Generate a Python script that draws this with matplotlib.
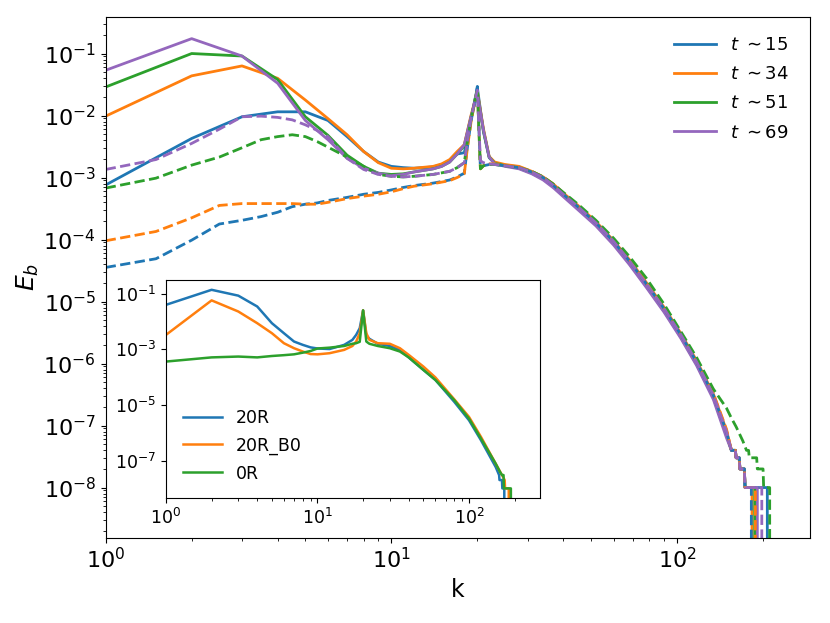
import numpy as np
import matplotlib
matplotlib.use("Agg")
import matplotlib.pyplot as plt
from matplotlib import ticker

# ---------------- main panel data (log10 of E_b) -------------
k_solid = [1, 2, 3, 4, 5, 6, 7, 8, 9, 10, 11, 12, 14, 15, 16, 17, 18, 19, 20, 21, 22, 23,
           25, 28, 31, 34, 37, 40, 45, 52, 60, 68, 78, 90, 103, 117, 134, 149,
           155, 160, 161, 165, 166, 172, 173]

logE_t15 = [-3.12, -2.37, -2.02, -1.94, -1.94, -2.08, -2.34, -2.58, -2.75, -2.82, -2.84, -2.85,
            -2.83, -2.79, -2.73, -2.62, -2.60, -2.06, -1.55, -2.26, -2.68, -2.77,
            -2.81, -2.84, -2.92, -3.01, -3.14, -3.28, -3.48, -3.74, -4.05, -4.36, -4.73, -5.13,
            -5.55, -5.99, -6.53, -7.14,
            -7.40, -7.40, -7.52, -7.52, -7.70, -7.70, -8.00]
logE_t34 = [-2.01, -1.36, -1.20, -1.40, -1.75, -2.05, -2.31, -2.58, -2.76, -2.85, -2.86, -2.85,
            -2.82, -2.78, -2.71, -2.58, -2.47, -2.00, -1.61, -2.21, -2.66, -2.75,
            -2.79, -2.82, -2.90, -2.99, -3.11, -3.25, -3.45, -3.71, -4.02, -4.32, -4.69, -5.09,
            -5.51, -5.95, -6.49, -7.08,
            -7.40, -7.40, -7.52, -7.52, -7.70, -7.70, -8.00]
logE_t51 = [-1.54, -1.00, -1.04, -1.42, -2.02, -2.32, -2.64, -2.82, -2.93, -2.95, -2.94, -2.91,
            -2.86, -2.82, -2.75, -2.62, -2.49, -2.03, -1.63, -2.24, -2.67, -2.77,
            -2.81, -2.85, -2.93, -3.02, -3.15, -3.29, -3.49, -3.76, -4.07, -4.38, -4.75, -5.15,
            -5.57, -6.01, -6.55, -7.16,
            -7.40, -7.40, -7.52, -7.52, -7.70, -7.70, -8.00]
logE_t69 = [-1.27, -0.76, -1.04, -1.48, -2.08, -2.39, -2.69, -2.85, -2.93, -2.97, -2.95, -2.91,
            -2.86, -2.82, -2.75, -2.62, -2.47, -2.02, -1.64, -2.23, -2.67, -2.78,
            -2.82, -2.86, -2.94, -3.04, -3.17, -3.31, -3.52, -3.78, -4.09, -4.40, -4.77, -5.17,
            -5.59, -6.03, -6.58, -7.20,
            -7.40, -7.40, -7.52, -7.52, -7.70, -7.70, -8.00]
end_t15, end_t34, end_t51, end_t69 = 207, 183, 187, 191

k_dash = [1, 1.5, 2, 2.5, 3, 3.5, 4, 4.5, 5, 5.5, 6, 7, 8, 9, 10, 11, 12, 14, 16, 17, 18,
          18.5, 19, 19.5, 20, 20.5, 21, 22, 23,
          25, 28, 31, 34, 37, 40, 45, 52, 60, 68, 78, 90, 103, 117, 134, 149,
          155, 160, 161, 165, 166, 172, 173]
logE_d15 = [-4.45, -4.31, -4.01, -3.75, -3.69, -3.63, -3.56, -3.47, -3.43, -3.41, -3.37, -3.32,
            -3.27, -3.24, -3.20, -3.16, -3.13, -3.09, -3.04, -2.99, -2.93,
            -2.48, -2.10, -1.82, -1.53, -2.86, -2.81, -2.79, -2.79,
            -2.81, -2.84, -2.91, -3.00, -3.13, -3.27, -3.47, -3.73, -4.03, -4.34, -4.71, -5.11,
            -5.53, -5.97, -6.51, -7.10,
            -7.40, -7.40, -7.52, -7.52, -7.70, -7.70, -8.00]
logE_d34 = [-4.02, -3.87, -3.65, -3.45, -3.42, -3.42, -3.42, -3.42, -3.43, -3.43, -3.40, -3.34,
            -3.30, -3.27, -3.23, -3.18, -3.14, -3.10, -3.05, -3.00, -2.94,
            -2.49, -2.11, -1.83, -1.57, -2.86, -2.81, -2.78, -2.78,
            -2.80, -2.83, -2.90, -2.99, -3.11, -3.25, -3.45, -3.71, -4.01, -4.32, -4.69, -5.09,
            -5.51, -5.95, -6.48, -7.06,
            -7.40, -7.40, -7.52, -7.52, -7.70, -7.70, -8.00]
logE_d69 = [-2.87, -2.71, -2.45, -2.22, -2.02, -2.01, -2.03, -2.07, -2.15, -2.24, -2.34, -2.69,
            -2.87, -2.95, -2.98, -2.99, -2.98, -2.95, -2.90, -2.84, -2.76,
            -2.38, -2.06, -1.81, -1.59, -2.73, -2.76, -2.78, -2.79,
            -2.81, -2.84, -2.91, -3.00, -3.13, -3.27, -3.47, -3.73, -4.03, -4.34, -4.71, -5.11,
            -5.53, -5.97, -6.51, -7.10,
            -7.40, -7.40, -7.52, -7.52, -7.70, -7.70, -8.00]
end_d15, end_d34, end_d69 = 182, 188, 198

k_dash_g = [1, 1.5, 2, 2.5, 3, 3.5, 4, 4.5, 5, 5.5, 6, 7, 8, 9, 10, 11, 12, 14, 16, 17, 18,
            18.5, 19, 19.5, 20, 20.5, 21, 22, 23,
            25, 28, 31, 34, 37, 40, 45, 52, 60, 68, 78, 90, 103, 117, 126, 134, 149,
            155, 161, 170, 175, 178, 179, 190, 191, 200, 201]
logE_d51 = [-3.17, -3.01, -2.80, -2.67, -2.52, -2.39, -2.34, -2.31, -2.34, -2.42, -2.51, -2.67,
            -2.82, -2.95, -2.98, -2.99, -2.98, -2.95, -2.90, -2.84, -2.76,
            -2.39, -2.06, -1.82, -1.57, -2.86, -2.81, -2.79, -2.79,
            -2.81, -2.84, -2.90, -2.99, -3.11, -3.24, -3.43, -3.69, -3.98, -4.27, -4.62, -5.04,
            -5.48, -5.90, -6.18, -6.41, -6.72,
            -6.88, -7.02, -7.25, -7.40, -7.40, -7.52, -7.52, -7.70, -7.70, -8.00]
end_d51 = 211

labels_t = [r'$t$ $\sim$15', r'$t$ $\sim$34', r'$t$ $\sim$51', r'$t$ $\sim$69']
colors = ['#1f77b4', '#ff7f0e', '#2ca02c', '#9467bd']

# ---------------- inset data ----------------
k_in_20R = [1, 2, 3, 4, 5, 6, 7, 8, 9, 10, 12, 15, 17, 18, 19, 20, 21, 22, 25, 30,
            35, 40, 50, 60, 80, 100, 120, 150, 158, 159, 165, 166]
logE_20R = [-1.40, -0.86, -1.07, -1.46, -2.06, -2.42, -2.72, -2.84, -2.93, -2.97,
            -2.99, -2.84, -2.66, -2.48, -2.24, -1.60, -2.50, -2.62, -2.80, -2.88,
            -3.02, -3.29, -3.74, -4.10, -4.89, -5.55, -6.27, -7.23, -7.52, -7.70, -7.70, -8.00]
end_20R = 171
k_in_20RB0 = [1, 2, 3, 4, 5, 6, 7, 8, 9, 10, 12, 15, 17, 18, 19, 20, 21, 22, 25, 30,
              35, 40, 50, 60, 80, 100, 120, 150, 165, 172, 173]
logE_20RB0 = [-2.48, -1.24, -1.64, -2.06, -2.42, -2.78, -2.96, -3.08, -3.17, -3.18,
              -3.14, -3.02, -2.88, -2.72, -2.42, -1.60, -2.42, -2.66, -2.78, -2.80,
              -2.96, -3.20, -3.62, -4.01, -4.80, -5.43, -6.15, -7.11, -7.52, -7.70, -8.00]
end_20RB0 = 183
k_in_0R = [1, 2, 3, 4, 5, 6, 7, 8, 9, 10, 12, 15, 17, 18, 19, 20, 21, 22, 25, 30,
           35, 40, 50, 60, 80, 100, 120, 150, 160, 165, 169, 170]
logE_0R = [-3.44, -3.29, -3.26, -3.29, -3.24, -3.21, -3.18, -3.12, -3.06, -2.97,
           -2.94, -2.88, -2.80, -2.78, -2.73, -1.60, -2.72, -2.80, -2.88, -2.96,
           -3.08, -3.29, -3.74, -4.10, -4.83, -5.49, -6.21, -7.11, -7.40, -7.52, -7.52, -8.00]
end_0R = 189
labels_in = ['20R', '20R_B0', '0R']


def series(k, loge, end):
    """plateau at the last value until `end`, then the spectrum is exactly zero"""
    kk = np.array(list(k) + [end, end + 1], dtype=float)
    ee = 10.0 ** np.array(list(loge) + [loge[-1], -np.inf])
    return kk, ee


fig = plt.figure(figsize=(8.3, 6.23), dpi=100)
ax = fig.add_axes([0.1273, 0.1372, 0.8486, 0.836])
ax.set_xscale('log')
ax.set_yscale('log')

solid = [(k_solid, logE_t15, end_t15), (k_solid, logE_t34, end_t34),
         (k_solid, logE_t51, end_t51), (k_solid, logE_t69, end_t69)]
dashed = [(k_dash, logE_d15, end_d15), (k_dash, logE_d34, end_d34),
          (k_dash_g, logE_d51, end_d51), (k_dash, logE_d69, end_d69)]

for (k, le, end), c, lab in zip(solid, colors, labels_t):
    kk, ee = series(k, le, end)
    ax.plot(kk, ee, '-', color=c, lw=2.0, label=lab)
for (k, le, end), c in zip(dashed, colors):
    kk, ee = series(k, le, end)
    ax.plot(kk, ee, '--', color=c, lw=2.0)

ax.set_xlim(1, 292)
ax.set_ylim(10 ** -8.806, 10 ** -0.406)
ax.yaxis.set_major_locator(ticker.FixedLocator(10.0 ** np.arange(-8, 0)))
ax.yaxis.set_major_formatter(ticker.LogFormatterSciNotation())
ax.yaxis.set_minor_locator(ticker.LogLocator(base=10, subs=np.arange(2, 10), numticks=20))
ax.yaxis.set_minor_formatter(ticker.NullFormatter())
ax.tick_params(axis='both', which='major', labelsize=16)
ax.set_xlabel('k', fontsize=17)
ax.set_ylabel(r'$E_b$', fontsize=18, labelpad=2)
ax.legend(loc='upper right', frameon=False, fontsize=13, labelspacing=0.62,
          handlelength=2.3, bbox_to_anchor=(0.993, 0.994))

# ---------------- inset ----------------
axi = fig.add_axes([0.2, 0.2, 0.45, 0.35])
axi.set_xscale('log')
axi.set_yscale('log')
for (k, le, end), c, lab in zip([(k_in_20R, logE_20R, end_20R),
                                 (k_in_20RB0, logE_20RB0, end_20RB0),
                                 (k_in_0R, logE_0R, end_0R)], colors[:3], labels_in):
    kk, ee = series(k, le, end)
    axi.plot(kk, ee, '-', color=c, lw=1.8, label=lab)
axi.set_xlim(1, 292)
axi.set_ylim(10 ** -8.36, 10 ** -0.52)
axi.yaxis.set_major_locator(ticker.FixedLocator([1e-1, 1e-3, 1e-5, 1e-7]))
axi.yaxis.set_major_formatter(ticker.LogFormatterSciNotation())
axi.yaxis.set_minor_locator(ticker.NullLocator())
axi.tick_params(axis='both', which='major', labelsize=12.5)
axi.legend(loc='lower left', frameon=False, fontsize=12.5, labelspacing=0.56,
           handlelength=2.2, borderaxespad=0.0, bbox_to_anchor=(0.028, 0.041))

fig.savefig('out.png', dpi=100)
